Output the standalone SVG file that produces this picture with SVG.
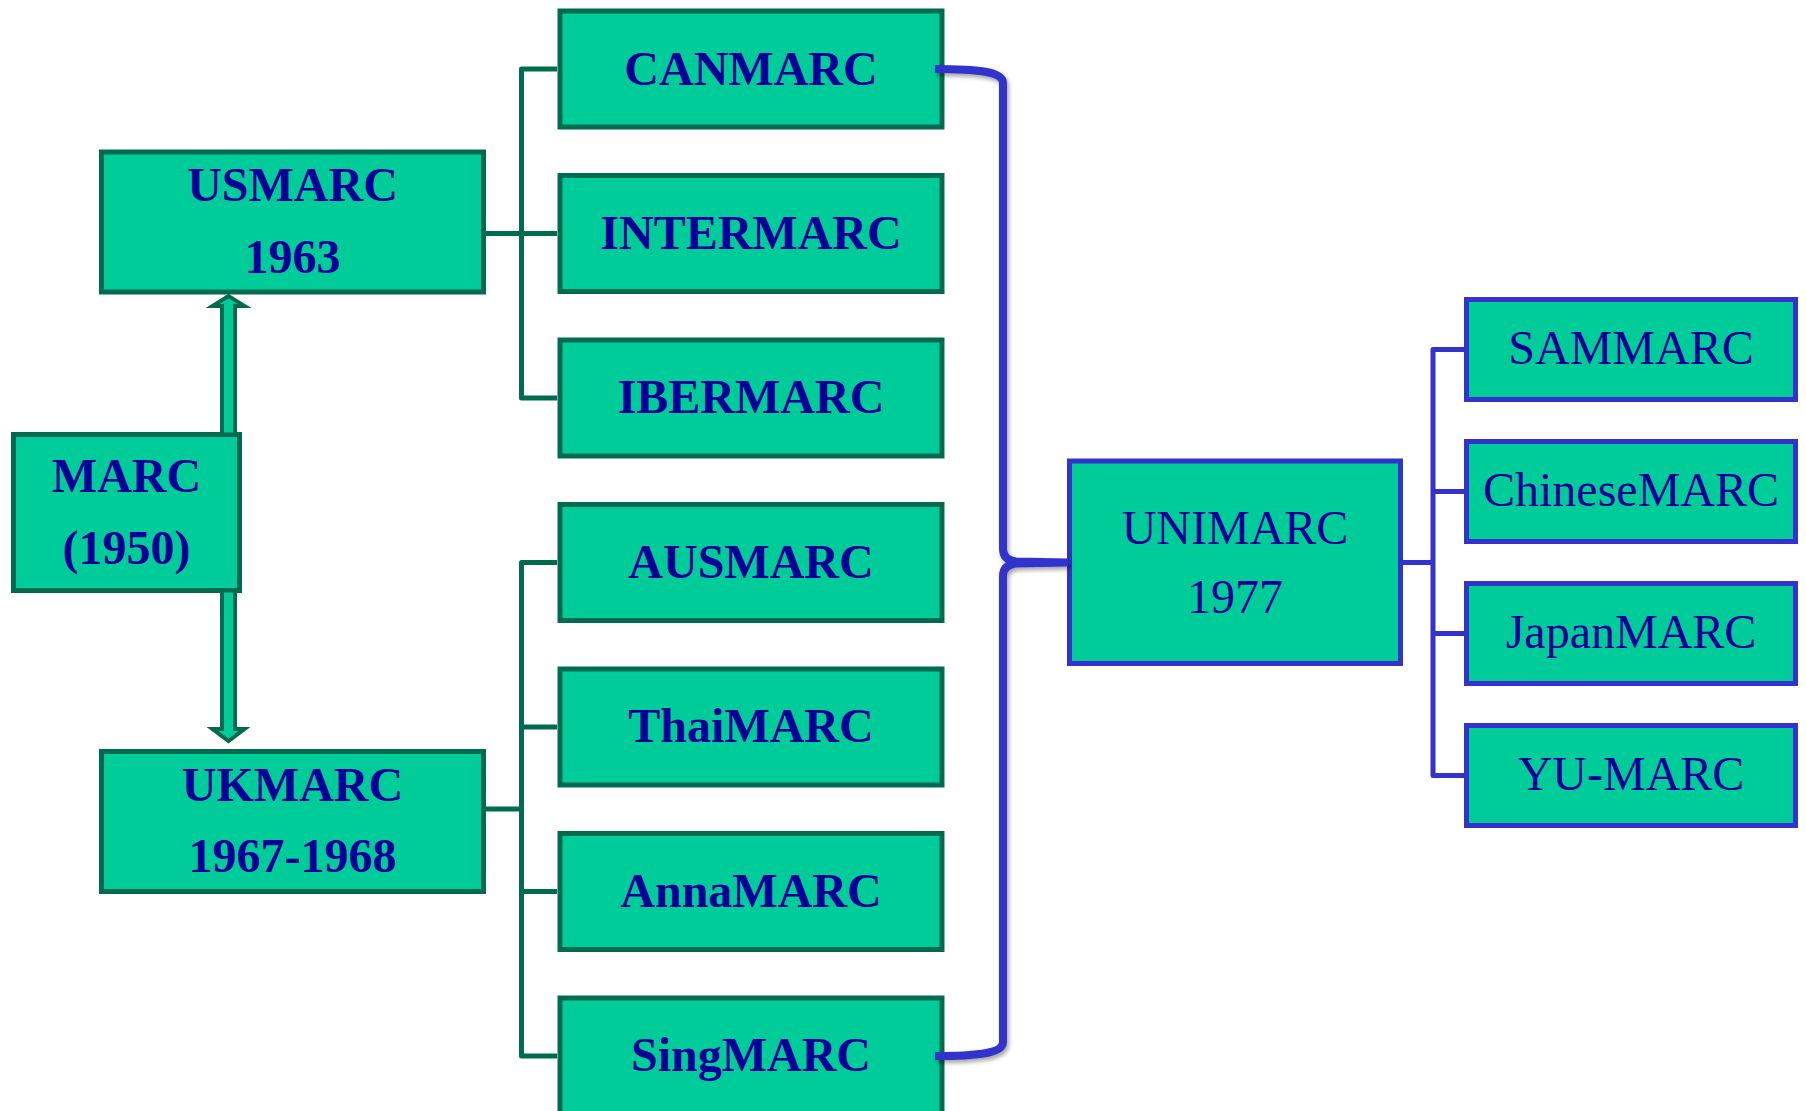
<svg xmlns="http://www.w3.org/2000/svg" width="1806" height="1111" viewBox="0 0 1806 1111">
  <defs>
    <filter id="shadow" x="-20%" y="-5%" width="140%" height="110%">
      <feDropShadow dx="2" dy="3" stdDeviation="2" flood-color="#000" flood-opacity="0.35"/>
    </filter>
    <style>
      .gbox { fill: #00CC99; stroke: #006B4F; stroke-width: 5; }
      .bbox { fill: #00CC99; stroke: #3333CC; stroke-width: 5; }
      .gline { fill: none; stroke: #006B4F; stroke-width: 5; stroke-linejoin: round; }
      .bline { fill: none; stroke: #3333CC; stroke-width: 5; stroke-linejoin: round; }
      .brace { fill: none; stroke: #3333CC; stroke-width: 8; stroke-linejoin: round; filter: url(#shadow); }
      .arrow { fill: #00CC99; stroke: #006B4F; stroke-width: 4; stroke-linejoin: miter; }
      .tb { font-family: "Liberation Serif", "Times New Roman", serif; font-weight: bold; font-size: 48px; fill: #000099; text-anchor: middle; }
      .tr { font-family: "Liberation Serif", "Times New Roman", serif; font-weight: normal; font-size: 48px; fill: #000099; text-anchor: middle; }
    </style>
  </defs>
  <rect width="1806" height="1111" fill="#FFFFFF"/>

  <g id="nodes">
    <g id="marc">
      <rect class="gbox" x="13.5" y="434.5" width="226" height="156"/>
      <text class="tb" x="126.5" y="492">MARC</text>
      <text class="tb" x="126.5" y="564">(1950)</text>
    </g>
    <g id="usmarc">
      <rect class="gbox" x="101.5" y="152" width="382" height="140"/>
      <text class="tb" x="292.5" y="201">USMARC</text>
      <text class="tb" x="292.5" y="273">1963</text>
    </g>
    <g id="ukmarc">
      <rect class="gbox" x="101.5" y="751.5" width="382" height="140"/>
      <text class="tb" x="292.5" y="801">UKMARC</text>
      <text class="tb" x="292.5" y="872">1967-1968</text>
    </g>
    <g id="canmarc">
      <rect class="gbox" x="560" y="11" width="382" height="116"/>
      <text class="tb" x="751" y="84.5">CANMARC</text>
    </g>
    <g id="intermarc">
      <rect class="gbox" x="560" y="175.5" width="382" height="116"/>
      <text class="tb" x="751" y="248.5">INTERMARC</text>
    </g>
    <g id="ibermarc">
      <rect class="gbox" x="560" y="340" width="382" height="116"/>
      <text class="tb" x="751" y="413">IBERMARC</text>
    </g>
    <g id="ausmarc">
      <rect class="gbox" x="560" y="504.5" width="382" height="116"/>
      <text class="tb" x="751" y="577.5">AUSMARC</text>
    </g>
    <g id="thaimarc">
      <rect class="gbox" x="560" y="669" width="382" height="116"/>
      <text class="tb" x="751" y="742">ThaiMARC</text>
    </g>
    <g id="annamarc">
      <rect class="gbox" x="560" y="833.5" width="382" height="116"/>
      <text class="tb" x="751" y="906.5">AnnaMARC</text>
    </g>
    <g id="singmarc">
      <rect class="gbox" x="560" y="998" width="382" height="116"/>
      <text class="tb" x="751" y="1071">SingMARC</text>
    </g>
    <g id="unimarc">
      <rect class="bbox" x="1069.5" y="461" width="331" height="202.5"/>
      <text class="tr" x="1235" y="544">UNIMARC</text>
      <text class="tr" x="1235" y="612.5">1977</text>
    </g>
    <g id="sammarc">
      <rect class="bbox" x="1466.5" y="299.5" width="329" height="100"/>
      <text class="tr" x="1631" y="364">SAMMARC</text>
    </g>
    <g id="chinesemarc">
      <rect class="bbox" x="1466.5" y="441.5" width="329" height="100"/>
      <text class="tr" x="1631" y="506">ChineseMARC</text>
    </g>
    <g id="japanmarc">
      <rect class="bbox" x="1466.5" y="583.5" width="329" height="100"/>
      <text class="tr" x="1631" y="648">JapanMARC</text>
    </g>
    <g id="yumarc">
      <rect class="bbox" x="1466.5" y="725.5" width="329" height="100"/>
      <text class="tr" x="1631" y="790">YU-MARC</text>
    </g>
  </g>

  <g id="connectors">
    <polygon class="arrow" points="222,434.5 222,306 212.5,306 228.5,296 244.5,306 235,306 235,434.5"/>
    <polygon class="arrow" points="222,590.5 222,729 212.5,729 228.5,741 244.5,729 235,729 235,590.5"/>
    <path class="gline" d="M557 69 H521.5 V398 H557 M486 233.5 H557"/>
    <path class="gline" d="M557 562.5 H521.5 V1056 H557 M521.5 727 H557 M521.5 891.5 H557 M486 809 H521.5"/>
    <path class="brace" d="M935 69 C975 69 1003 71 1003 83 L1003 549 Q1003 560 1016 561.5 L1068 562.5 M1068 562.5 L1016 563.5 Q1003 565 1003 576 L1003 1042 C1003 1054 975 1056 935 1056"/>
    <path class="bline" d="M1403 562.5 H1433 M1464 349.5 H1433 V775.5 H1464 M1433 491.5 H1464 M1433 633.5 H1464"/>
  </g>
</svg>
